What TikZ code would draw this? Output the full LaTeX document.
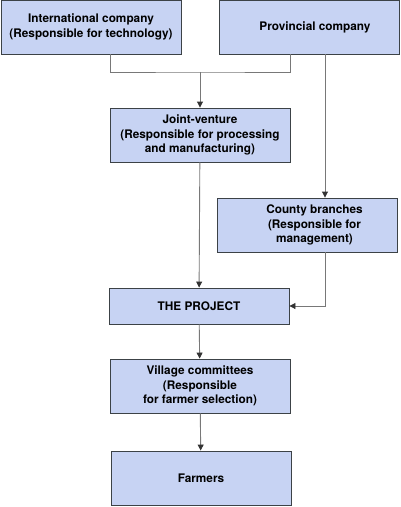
\documentclass[tikz,border=0pt]{standalone}
\usepackage{fontspec}
\setmainfont{TeX Gyre Heros}
\usetikzlibrary{arrows.meta}
\definecolor{boxfill}{RGB}{199,211,243}
\definecolor{boxline}{RGB}{60,66,70}
\definecolor{linkgray}{RGB}{120,120,120}

\begin{document}
\begin{tikzpicture}[x=1pt,y=-1pt,
  box/.style = {draw=boxline, fill=boxfill, line width=0.9pt, minimum width=180pt,
    minimum height=54pt, align=center, inner sep=0pt,
    font=\fontsize{11.8}{14.3}\selectfont\bfseries},
  link/.style = {draw=linkgray, line width=0.9pt},
  arrow/.style = {link, -{Triangle[length=6pt,width=6pt,color=black!80]}}]
\useasboundingbox (0,0) rectangle (400,507);
\node[box] (intl) at (91,27) {International company\\(Responsible for technology)};
\node[box] (prov) at (309,27) {\hspace*{12pt}Provincial company};
\node[box] (joint) at (200,135) {Joint-venture\\(Responsible for processing\\and manufacturing)};
\node[box] (county) at (307.5,225) {\hspace*{14pt}County branches\\\hspace*{14pt}(Responsible for\\\hspace*{14pt}management)};
\node[box, minimum height=36pt] (project) at (199,306) {THE PROJECT};
\node[box] (village) at (200,386) {Village committees\\(Responsible\\for farmer selection)};
\node[box] (farmers) at (201,478) {Farmers};
\coordinate (merge) at (200,72);
\draw[link] ([xshift=19pt]intl.south) |- (merge) -| ([xshift=-19pt]prov.south);
\draw[arrow] (merge) -- (joint);
\draw[arrow] ([xshift=17.5pt]county.north |- prov.south) -- ([xshift=17.5pt]county.north);
\draw[arrow] (joint) -- (project);
\draw[arrow] ([xshift=18pt]county.south) |- (project.east);
\draw[arrow] (project) -- (village);
\draw[arrow] (village) -- (farmers);
\end{tikzpicture}
\end{document}
